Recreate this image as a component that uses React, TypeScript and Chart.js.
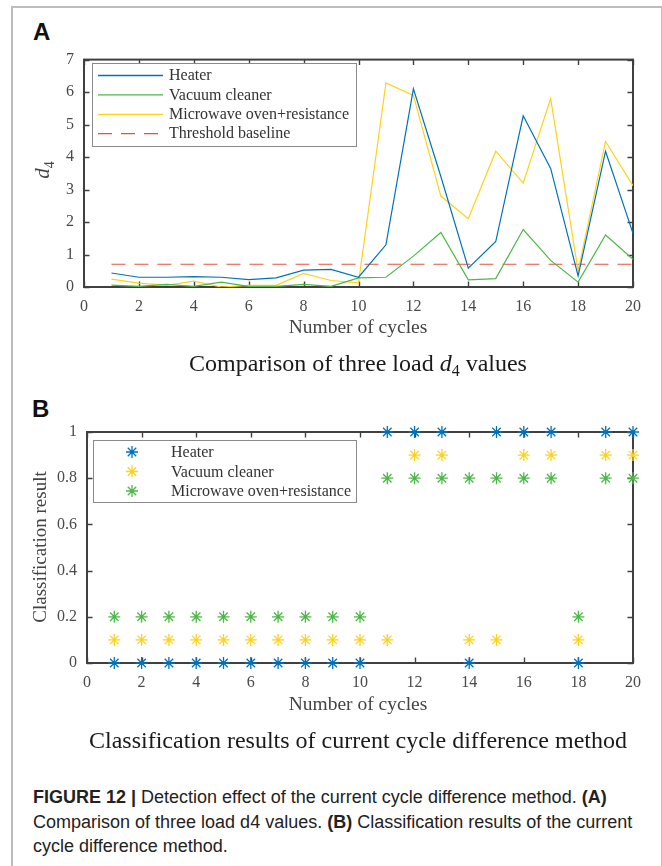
import React, { useEffect, useRef } from 'react';
import { Chart, registerables } from 'chart.js';

Chart.register(...registerables);

// ---------- data ----------
const cycles = [1, 2, 3, 4, 5, 6, 7, 8, 9, 10, 11, 12, 13, 14, 15, 16, 17, 18, 19, 20];

const heaterD4 = [0.43, 0.30, 0.30, 0.32, 0.30, 0.23, 0.28, 0.52, 0.54, 0.30, 1.30, 6.10, 3.40, 0.58, 1.40, 5.27, 3.65, 0.34, 4.18, 1.65];
const vacuumD4 = [0.06, 0.02, 0.08, 0.02, 0.15, 0.02, 0.02, 0.08, 0.02, 0.28, 0.30, 0.95, 1.68, 0.22, 0.26, 1.77, 0.82, 0.15, 1.60, 0.85];
const microwaveD4 = [0.24, 0.12, 0.05, 0.18, 0.00, 0.05, 0.05, 0.42, 0.20, 0.13, 6.28, 5.90, 2.80, 2.10, 4.18, 3.20, 5.80, 0.50, 4.48, 3.12];
const thresholdD4 = [0.7, 0.7, 0.7, 0.7, 0.7, 0.7, 0.7, 0.7, 0.7, 0.7, 0.7, 0.7, 0.7, 0.7, 0.7, 0.7, 0.7, 0.7, 0.7, 0.7];

const heaterClass = [0, 0, 0, 0, 0, 0, 0, 0, 0, 0, 1, 1, 1, 0, 1, 1, 1, 0, 1, 1];
const vacuumClass = [0.1, 0.1, 0.1, 0.1, 0.1, 0.1, 0.1, 0.1, 0.1, 0.1, 0.1, 0.9, 0.9, 0.1, 0.1, 0.9, 0.9, 0.1, 0.9, 0.9];
const microwaveClass = [0.2, 0.2, 0.2, 0.2, 0.2, 0.2, 0.2, 0.2, 0.2, 0.2, 0.8, 0.8, 0.8, 0.8, 0.8, 0.8, 0.8, 0.2, 0.8, 0.8];

const seriesLabels = ['Heater', 'Vacuum cleaner', 'Microwave oven+resistance'];
const thresholdLabel = 'Threshold baseline';
const xTitle = 'Number of cycles';

// ---------- styles ----------
const BLUE = '#0072BD';
const GREEN = '#4DB848';
const YELLOW = '#FFD21A';
const RED = '#E5533C';
const SERIF = '"Liberation Serif", "Times New Roman", serif';
const SANS = '"Liberation Sans", Arial, sans-serif';
const AXIS = '#404040';
const TICKTEXT = '#4a4a4a';

const pts = (ys: number[]) => cycles.map((x, i) => ({ x, y: ys[i] }));

function drawStar(ctx: CanvasRenderingContext2D, x: number, y: number, r: number) {
  ctx.beginPath();
  ctx.moveTo(x - r, y); ctx.lineTo(x + r, y);
  ctx.moveTo(x, y - r); ctx.lineTo(x, y + r);
  const d = r * Math.SQRT1_2;
  ctx.moveTo(x - d, y - d); ctx.lineTo(x + d, y + d);
  ctx.moveTo(x - d, y + d); ctx.lineTo(x + d, y - d);
  ctx.stroke();
}

const framePlugin = {
  id: 'matlabFrame',
  beforeDatasetsDraw(chart: any) {
    const { ctx, chartArea, scales } = chart;
    const { left, right, top, bottom } = chartArea;
    const tl = 5.5;
    ctx.save();
    ctx.strokeStyle = AXIS;
    ctx.lineWidth = 1.4;
    ctx.beginPath();
    scales.x.ticks.forEach((t: any) => {
      const px = Math.round(scales.x.getPixelForValue(t.value)) + 0.5;
      ctx.moveTo(px, bottom); ctx.lineTo(px, bottom - tl);
      ctx.moveTo(px, top); ctx.lineTo(px, top + tl);
    });
    scales.y.ticks.forEach((t: any) => {
      const py = Math.round(scales.y.getPixelForValue(t.value)) + 0.5;
      ctx.moveTo(left, py); ctx.lineTo(left + tl, py);
      ctx.moveTo(right, py); ctx.lineTo(right - tl, py);
    });
    ctx.stroke();
    ctx.lineWidth = 2;
    ctx.strokeRect(left, top, right - left, bottom - top);
    ctx.restore();
  },
};

const boxLegendPlugin = {
  id: 'boxLegend',
  afterDraw(chart: any, _args: any, opts: any) {
    const { ctx } = chart;
    ctx.save();
    ctx.fillStyle = '#ffffff';
    ctx.fillRect(opts.x, opts.y, opts.w, opts.h);
    ctx.strokeStyle = '#8a8a8a';
    ctx.lineWidth = 1;
    ctx.strokeRect(opts.x + 0.5, opts.y + 0.5, opts.w, opts.h);
    ctx.font = `16px ${SERIF}`;
    ctx.textBaseline = 'middle';
    ctx.textAlign = 'left';
    chart.data.datasets.forEach((ds: any, i: number) => {
      const cy = opts.firstRow + i * opts.rowH;
      ctx.strokeStyle = ds.borderColor;
      if (opts.kind === 'line') {
        ctx.lineWidth = 1.3;
        ctx.setLineDash(ds.borderDash || []);
        ctx.beginPath();
        ctx.moveTo(opts.s1, cy + 0.5);
        ctx.lineTo(opts.s2, cy + 0.5);
        ctx.stroke();
        ctx.setLineDash([]);
      } else {
        ctx.lineWidth = 1.3;
        drawStar(ctx, opts.mx, cy, 6);
      }
      ctx.fillStyle = '#333333';
      ctx.fillText(ds.label, opts.tx, cy + 1);
    });
    ctx.restore();
  },
};

const tickFont = { family: SERIF, size: 16 };

function ChartA() {
  const ref = useRef<HTMLCanvasElement>(null);
  useEffect(() => {
    const mk = (label: string, data: number[], color: string, dash?: number[]) => ({
      label, data: pts(data), borderColor: color, backgroundColor: color, borderWidth: 1.2,
      pointRadius: 0, borderDash: dash || [], tension: 0, fill: false,
    });
    const chart = new Chart(ref.current!, {
      type: 'line',
      data: {
        datasets: [
          mk(seriesLabels[0], heaterD4, BLUE),
          mk(seriesLabels[1], vacuumD4, GREEN),
          mk(seriesLabels[2], microwaveD4, YELLOW),
          mk(thresholdLabel, thresholdD4, RED, [14, 9]),
        ],
      },
      options: {
        animation: false,
        responsive: false,
        layout: { padding: { left: 0, right: 29, top: 14, bottom: 0 } },
        plugins: {
          legend: { display: false },
          tooltip: { enabled: false },
          boxLegend: { kind: 'line', x: 92, y: 23, w: 264, h: 83, firstRow: 35, rowH: 19.4, s1: 98, s2: 163, tx: 169 },
        } as any,
        scales: {
          x: {
            type: 'linear', min: 0, max: 20,
            grid: { display: false, drawTicks: false }, border: { display: false },
            ticks: { stepSize: 2, font: tickFont, color: TICKTEXT, padding: 10, maxRotation: 0 },
            afterFit: (s: any) => { s.height = 43; },
          },
          y: {
            type: 'linear', min: 0, max: 7,
            grid: { display: false, drawTicks: false }, border: { display: false },
            ticks: { stepSize: 1, font: tickFont, color: TICKTEXT, padding: 10 },
            afterFit: (s: any) => { s.width = 84; },
          },
        },
      },
      plugins: [framePlugin, boxLegendPlugin],
    } as any);
    return () => chart.destroy();
  }, []);
  return <canvas ref={ref} width={662} height={290} style={{ position: 'absolute', left: 0, top: 40, width: 662, height: 290 }} />;
}

function ChartB() {
  const ref = useRef<HTMLCanvasElement>(null);
  useEffect(() => {
    const mk = (label: string, data: number[], color: string) => ({
      label, data: pts(data), borderColor: color, backgroundColor: color, borderWidth: 1.3,
      pointStyle: 'star', pointRadius: 6, showLine: false, clip: false,
    });
    const chart = new Chart(ref.current!, {
      type: 'scatter',
      data: {
        datasets: [
          mk(seriesLabels[0], heaterClass, BLUE),
          mk(seriesLabels[1], vacuumClass, YELLOW),
          mk(seriesLabels[2], microwaveClass, GREEN),
        ],
      },
      options: {
        animation: false,
        responsive: false,
        layout: { padding: { left: 0, right: 29, top: 22, bottom: 0 } },
        plugins: {
          legend: { display: false },
          tooltip: { enabled: false },
          boxLegend: { kind: 'marker', x: 93, y: 30, w: 263, h: 62, firstRow: 42, rowH: 19.5, mx: 132, tx: 171 },
        } as any,
        scales: {
          x: {
            type: 'linear', min: 0, max: 20,
            grid: { display: false, drawTicks: false }, border: { display: false },
            ticks: { stepSize: 2, font: tickFont, color: TICKTEXT, padding: 10, maxRotation: 0 },
            afterFit: (s: any) => { s.height = 37; },
          },
          y: {
            type: 'linear', min: 0, max: 1,
            grid: { display: false, drawTicks: false }, border: { display: false },
            ticks: { stepSize: 0.2, font: tickFont, color: TICKTEXT, padding: 10, callback: (v: any) => String(+Number(v).toFixed(1)) },
            afterFit: (s: any) => { s.width = 87; },
          },
        },
      },
      plugins: [framePlugin, boxLegendPlugin],
    } as any);
    return () => chart.destroy();
  }, []);
  return <canvas ref={ref} width={662} height={290} style={{ position: 'absolute', left: 0, top: 410, width: 662, height: 290 }} />;
}

const abs = (s: React.CSSProperties): React.CSSProperties => ({ position: 'absolute', margin: 0, ...s });

export default function App() {
  const centerText = (top: number, size: number, color: string, lh: number): React.CSSProperties =>
    abs({ left: 8, width: 700, top, textAlign: 'center', fontFamily: SERIF, fontSize: size, color, lineHeight: `${lh}px`, whiteSpace: 'nowrap' });
  return (
    <div style={{ position: 'absolute', left: 0, top: 0, width: 662, height: 866, background: '#fff', overflow: 'hidden' }}>
      <div style={abs({ left: 11, top: 6, width: 648, height: 900, borderLeft: '2px solid #bdbdbd', borderTop: '2px solid #bdbdbd', borderRight: '2px solid #bdbdbd' })} />
      <div style={abs({ left: 33, top: 20, fontFamily: SANS, fontWeight: 'bold', fontSize: 24, lineHeight: '24px', color: '#111' })}>A</div>
      <div style={abs({ left: 32, top: 397, fontFamily: SANS, fontWeight: 'bold', fontSize: 24, lineHeight: '24px', color: '#111' })}>B</div>

      <ChartA />
      <ChartB />

      <div style={abs({ left: 43, top: 170, transform: 'translate(-50%, -50%) rotate(-90deg)', fontFamily: SERIF, fontSize: 21, color: '#444', whiteSpace: 'nowrap', lineHeight: '24px' })}>
        <i>d</i><span style={{ fontSize: 14, position: 'relative', top: 5 }}>4</span>
      </div>
      <div style={abs({ left: 40, top: 547, transform: 'translate(-50%, -50%) rotate(-90deg)', fontFamily: SERIF, fontSize: 19, color: '#444', whiteSpace: 'nowrap', lineHeight: '22px' })}>
        Classification result
      </div>

      <div style={centerText(316, 19.5, '#444', 22)}>{xTitle}</div>
      <div style={centerText(693, 19.5, '#444', 22)}>{xTitle}</div>

      <div style={centerText(349, 24, '#1a1a1a', 28)}>
        Comparison of three load <i>d</i><span style={{ fontSize: 16, position: 'relative', top: 5 }}>4</span> values
      </div>
      <div style={centerText(726, 24, '#1a1a1a', 28)}>Classification results of current cycle difference method</div>

      <div style={abs({ left: 33, top: 785, width: 625, fontFamily: SANS, fontSize: 18, lineHeight: '24.5px', color: '#222', whiteSpace: 'nowrap' })}>
        <b>FIGURE 12 |</b> Detection effect of the current cycle difference method. <b>(A)</b><br />
        Comparison of three load d4 values. <b>(B)</b> Classification results of the current<br />
        cycle difference method.
      </div>
    </div>
  );
}
